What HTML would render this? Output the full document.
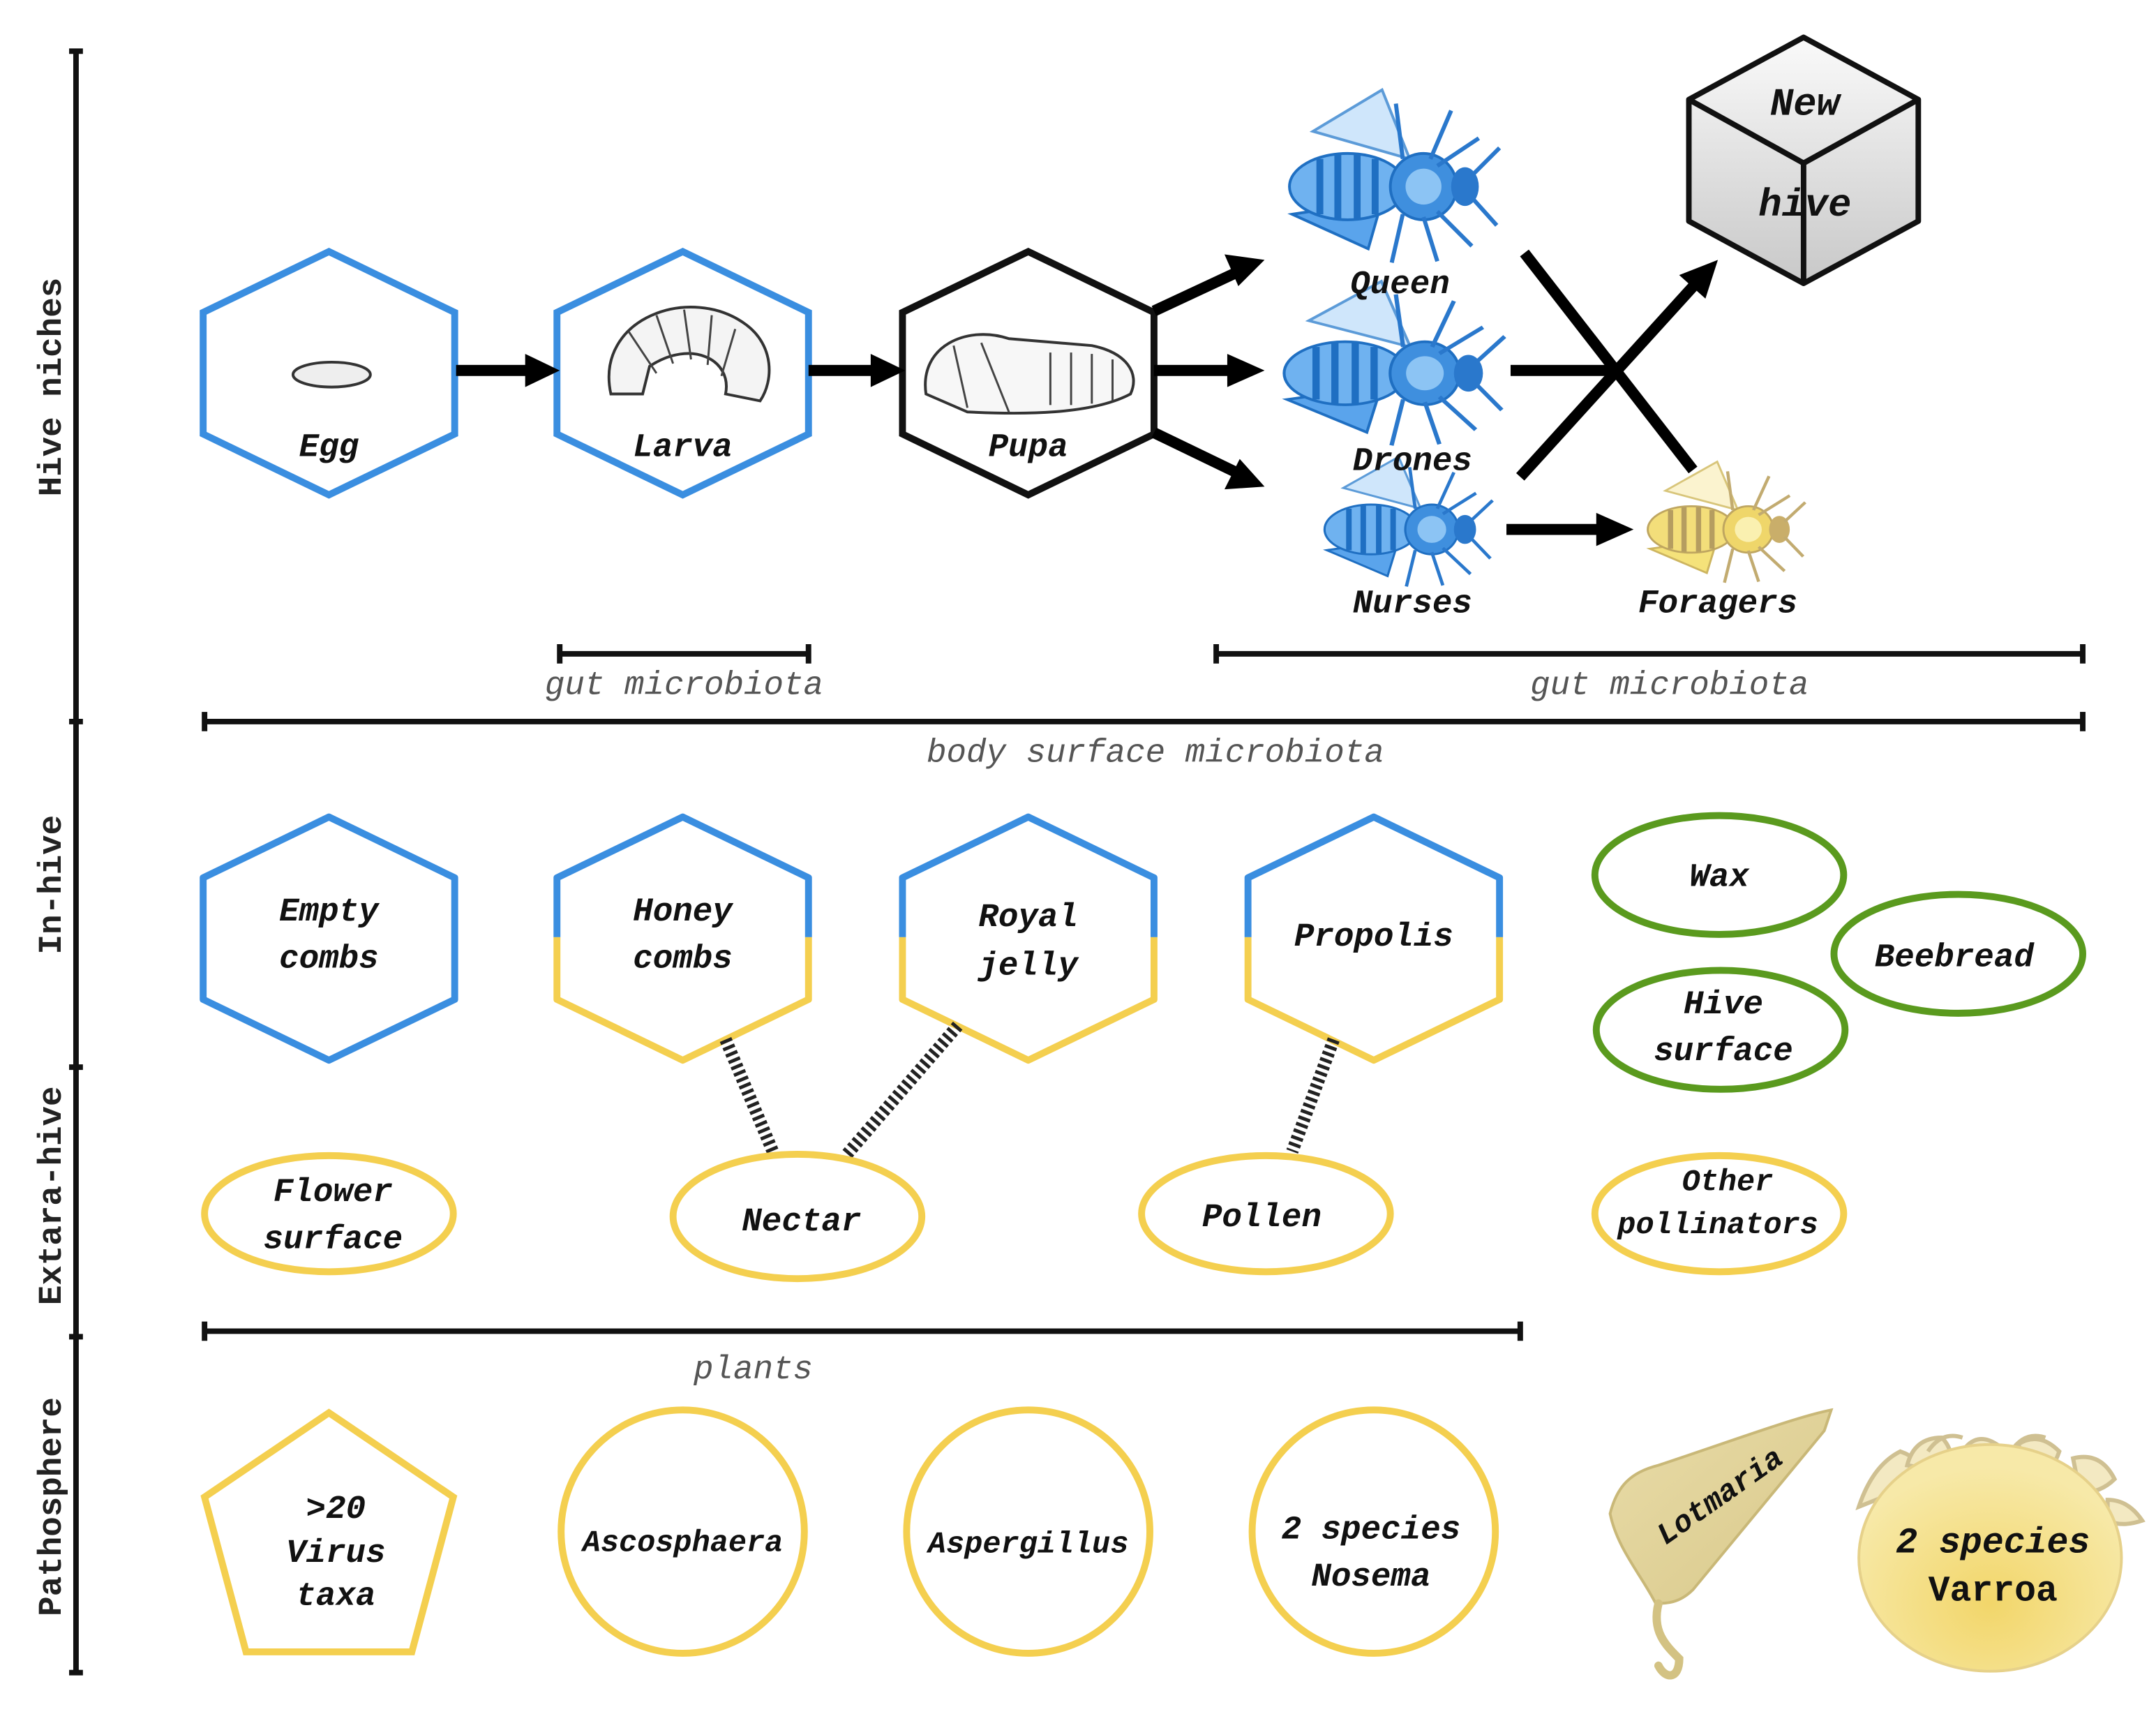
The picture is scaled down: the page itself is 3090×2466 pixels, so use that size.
<!DOCTYPE html>
<html><head><meta charset="utf-8"><style>
html,body{margin:0;padding:0;background:#fff;}
svg{display:block;}
text{font-family:"Liberation Mono","DejaVu Sans Mono",monospace;font-weight:bold;font-style:italic;fill:#111;}
.ax{font-style:normal;font-size:24px;fill:#222;}
.lbl{font-size:24px;text-anchor:middle;}
.rng{font-weight:normal;font-size:24px;fill:#555;text-anchor:middle;}
</style></head><body>
<svg width="3090" height="2466" viewBox="0 0 1560 1245" preserveAspectRatio="none" xmlns="http://www.w3.org/2000/svg">
<defs>
<linearGradient id="cube" x1="0" y1="0" x2="0" y2="1"><stop offset="0" stop-color="#fafafa"/><stop offset="1" stop-color="#c8c8c8"/></linearGradient>
<radialGradient id="var" cx="0.5" cy="0.7" r="0.6"><stop offset="0" stop-color="#f2d66a"/><stop offset="1" stop-color="#f7e9a8"/></radialGradient>
<linearGradient id="lot" x1="0" y1="0" x2="1" y2="1"><stop offset="0" stop-color="#e9dca8"/><stop offset="1" stop-color="#d8c88a"/></linearGradient>
<g id="bee">
<path d="M-60,-40 L-10,-70 L10,-20 Z" fill="#cfe6fb" stroke="#5c9bd8" stroke-width="2"/>
<path d="M-75,20 L-10,10 L-20,45 Z" fill="#5aa4ec" stroke="#1f6fc2" stroke-width="2"/>
<ellipse cx="-35" cy="0" rx="42" ry="24" fill="#6fb2f0" stroke="#1f6fc2" stroke-width="2"/>
<path d="M-55,-20 v40 M-42,-23 v46 M-28,-23 v46 M-15,-20 v40" stroke="#1f6fc2" stroke-width="5"/>
<circle cx="20" cy="0" r="24" fill="#3f8fde" stroke="#1f6fc2" stroke-width="2"/>
<circle cx="20" cy="0" r="13" fill="#8cc4f4"/>
<ellipse cx="50" cy="0" rx="10" ry="14" fill="#2a78cc"/>
<path d="M5,20 l-8,35 M20,22 l10,32 M30,18 l25,25 M5,-20 l-5,-40 M25,-20 l15,-35 M30,-15 l30,-20 M55,-8 l20,-20 M55,8 l18,20" stroke="#2a78cc" stroke-width="3" fill="none"/>
</g>
<g id="ybee">
<path d="M-60,-40 L-10,-70 L10,-20 Z" fill="#fbf3cf" stroke="#d8c57a" stroke-width="2"/>
<path d="M-75,20 L-10,10 L-20,45 Z" fill="#f5e27a" stroke="#cdb560" stroke-width="2"/>
<ellipse cx="-35" cy="0" rx="42" ry="24" fill="#f3de7a" stroke="#bfa660" stroke-width="2"/>
<path d="M-55,-20 v40 M-42,-23 v46 M-28,-23 v46 M-15,-20 v40" stroke="#b59d60" stroke-width="5"/>
<circle cx="20" cy="0" r="24" fill="#efd66a" stroke="#bfa660" stroke-width="2"/>
<circle cx="20" cy="0" r="13" fill="#faf0b0"/>
<ellipse cx="50" cy="0" rx="10" ry="14" fill="#c9ae6a"/>
<path d="M5,20 l-8,35 M20,22 l10,32 M30,18 l25,25 M5,-20 l-5,-40 M25,-20 l15,-35 M30,-15 l30,-20 M55,-8 l20,-20 M55,8 l18,20" stroke="#c2ab70" stroke-width="3" fill="none"/>
</g>
</defs>

<g stroke="#111" stroke-width="4">
<line x1="55" y1="37" x2="55" y2="1210"/>
<line x1="50" y1="37" x2="60" y2="37"/><line x1="50" y1="522" x2="60" y2="522"/><line x1="50" y1="772" x2="60" y2="772"/><line x1="50" y1="967" x2="60" y2="967"/><line x1="50" y1="1210" x2="60" y2="1210"/>
</g>
<text class="ax" transform="translate(44,280) rotate(-90)" text-anchor="middle">Hive niches</text>
<text class="ax" transform="translate(44,640) rotate(-90)" text-anchor="middle">In-hive</text>
<text class="ax" transform="translate(44,865) rotate(-90)" text-anchor="middle">Extara-hive</text>
<text class="ax" transform="translate(44,1090) rotate(-90)" text-anchor="middle">Pathosphere</text>

<g fill="#fff" stroke-width="5">
<polygon points="238,182 329,226 329,314 238,358 147,314 147,226" stroke="#3a8ee0"/>
<polygon points="494,182 585,226 585,314 494,358 403,314 403,226" stroke="#3a8ee0"/>
<polygon points="744,182 835,226 835,314 744,358 653,314 653,226" stroke="#111"/>
</g>
<ellipse cx="240" cy="271" rx="28" ry="9" fill="#eee" stroke="#333" stroke-width="2"/>
<path d="M442,285 C430,230 500,205 540,235 C560,250 560,275 550,290 L525,285 C530,260 500,245 470,265 L465,285 Z" fill="#f4f4f4" stroke="#333" stroke-width="2"/>
<g stroke="#444" stroke-width="1.5" fill="none"><path d="M455,240 l20,30 M475,228 l12,35 M495,224 l5,36 M515,228 l-3,36 M532,238 l-10,34"/></g>
<path d="M670,285 C665,250 700,235 730,245 L790,250 C815,255 825,270 818,285 C790,300 740,300 700,298 Z" fill="#f7f7f7" stroke="#333" stroke-width="2"/>
<g stroke="#444" stroke-width="1.5" fill="none"><path d="M760,255 v38 M775,255 v38 M790,256 v36 M805,260 v30 M690,250 l10,45 M710,248 l20,50"/></g>
<text class="lbl" x="238" y="330">Egg</text>
<text class="lbl" x="494" y="330">Larva</text>
<text class="lbl" x="744" y="330">Pupa</text>

<g stroke="#000" stroke-width="8" fill="none">
<line x1="330" y1="268" x2="385" y2="268"/>
<line x1="585" y1="268" x2="635" y2="268"/>
<line x1="835" y1="225" x2="895" y2="197"/>
<line x1="835" y1="268" x2="893" y2="268"/>
<line x1="835" y1="313" x2="895" y2="342"/>
<line x1="1093" y1="268" x2="1170" y2="268"/>
<line x1="1103" y1="183" x2="1225" y2="340"/>
<line x1="1100" y1="345" x2="1228" y2="204"/>
<line x1="1090" y1="383" x2="1158" y2="383"/>
</g>
<g fill="#000">
<polygon points="405,268 380,256 380,280"/>
<polygon points="655,268 630,256 630,280"/>
<polygon points="915,188 886,184 896,207"/>
<polygon points="915,268 888,256 888,280"/>
<polygon points="915,352 897,332 886,354"/>
<polygon points="1243,188 1215,199 1234,216"/>
<polygon points="1182,383 1155,371 1155,395"/>
</g>

<use href="#bee" transform="translate(1010,135)"/>
<use href="#bee" transform="translate(1010,270) scale(1.05,0.95)"/>
<use href="#bee" transform="translate(1020,383) scale(0.8,0.75)"/>
<use href="#ybee" transform="translate(1250,383) scale(0.75,0.7)"/>
<text class="lbl" x="1013" y="212">Queen</text>
<text class="lbl" x="1022" y="340">Drones</text>
<text class="lbl" x="1022" y="443">Nurses</text>
<text class="lbl" x="1243" y="443">Foragers</text>

<g stroke="#111" stroke-width="4" stroke-linejoin="round">
<polygon points="1305,27 1388,72 1388,160 1305,205 1222,160 1222,72" fill="url(#cube)"/>
<polyline points="1222,72 1305,118 1388,72" fill="none"/>
<line x1="1305" y1="118" x2="1305" y2="205"/>
</g>
<text class="lbl" x="1306" y="83" style="font-size:28px">New</text>
<text class="lbl" x="1306" y="156" style="font-size:28px">hive</text>

<g stroke="#111" stroke-width="4">
<line x1="405" y1="473" x2="585" y2="473"/><line x1="405" y1="466" x2="405" y2="480"/><line x1="585" y1="466" x2="585" y2="480"/>
<line x1="880" y1="473" x2="1507" y2="473"/><line x1="880" y1="466" x2="880" y2="480"/><line x1="1507" y1="466" x2="1507" y2="480"/>
<line x1="148" y1="522" x2="1507" y2="522"/><line x1="148" y1="515" x2="148" y2="529"/><line x1="1507" y1="515" x2="1507" y2="529"/>
<line x1="148" y1="963" x2="1100" y2="963"/><line x1="148" y1="956" x2="148" y2="970"/><line x1="1100" y1="956" x2="1100" y2="970"/>
</g>
<text class="rng" x="495" y="502">gut microbiota</text>
<text class="rng" x="1208" y="502">gut microbiota</text>
<text class="rng" x="836" y="551">body surface microbiota</text>
<text class="rng" x="545" y="997">plants</text>

<g fill="#fff" stroke-width="5" stroke-linejoin="round">
<polygon points="238,591 329,635 329,723 238,767 147,723 147,635" stroke="#3a8ee0"/>
<polyline points="403,678 403,635 494,591 585,635 585,678" stroke="#3a8ee0" fill="none"/>
<polyline points="403,678 403,723 494,767 585,723 585,678" stroke="#f4cf4f" fill="none"/>
<polyline points="653,678 653,635 744,591 835,635 835,678" stroke="#3a8ee0" fill="none"/>
<polyline points="653,678 653,723 744,767 835,723 835,678" stroke="#f4cf4f" fill="none"/>
<polyline points="903,678 903,635 994,591 1085,635 1085,678" stroke="#3a8ee0" fill="none"/>
<polyline points="903,678 903,723 994,767 1085,723 1085,678" stroke="#f4cf4f" fill="none"/>
</g>
<text class="lbl" x="238" y="666">Empty</text><text class="lbl" x="238" y="700">combs</text>
<text class="lbl" x="494" y="666">Honey</text><text class="lbl" x="494" y="700">combs</text>
<text class="lbl" x="744" y="670">Royal</text><text class="lbl" x="744" y="705">jelly</text>
<text class="lbl" x="994" y="684">Propolis</text>

<g fill="#fff" stroke="#5a9a1e" stroke-width="5">
<ellipse cx="1244" cy="633" rx="90" ry="43"/>
<ellipse cx="1245" cy="745" rx="90" ry="43"/>
<ellipse cx="1417" cy="690" rx="90" ry="43"/>
</g>
<text class="lbl" x="1244" y="641">Wax</text>
<text class="lbl" x="1247" y="733">Hive</text><text class="lbl" x="1247" y="767">surface</text>
<text class="lbl" x="1414" y="699">Beebread</text>

<g stroke="#222" stroke-width="9" stroke-dasharray="2.5,2.5" fill="none">
<line x1="525" y1="752" x2="560" y2="835"/>
<line x1="693" y1="742" x2="612" y2="836"/>
<line x1="965" y1="752" x2="935" y2="833"/>
</g>

<g fill="#fff" stroke="#f4cf4f" stroke-width="5">
<ellipse cx="238" cy="878" rx="90" ry="42"/>
<ellipse cx="577" cy="880" rx="90" ry="45"/>
<ellipse cx="916" cy="878" rx="90" ry="42"/>
<ellipse cx="1244" cy="878" rx="90" ry="42"/>
</g>
<text class="lbl" x="241" y="869">Flower</text><text class="lbl" x="241" y="903">surface</text>
<text class="lbl" x="580" y="890">Nectar</text>
<text class="lbl" x="913" y="887">Pollen</text>
<text class="lbl" x="1250" y="861" style="font-size:22px">Other</text><text class="lbl" x="1243" y="892" style="font-size:22px">pollinators</text>

<g fill="#fff" stroke="#f4cf4f" stroke-width="5">
<polygon points="238,1022 328,1083 298,1195 178,1195 148,1083"/>
<circle cx="494" cy="1108" r="88"/>
<circle cx="744" cy="1108" r="88"/>
<circle cx="994" cy="1108" r="88"/>
</g>
<text class="lbl" x="243" y="1098">&gt;20</text><text class="lbl" x="243" y="1130">Virus</text><text class="lbl" x="243" y="1161">taxa</text>
<text class="lbl" x="494" y="1122" style="font-size:22px">Ascosphaera</text>
<text class="lbl" x="744" y="1123" style="font-size:22px">Aspergillus</text>
<text class="lbl" x="992" y="1113">2 species</text><text class="lbl" x="992" y="1147">Nosema</text>

<path d="M1325,1020 L1320,1035 L1225,1150 C1215,1160 1205,1160 1198,1160 C1188,1140 1170,1120 1165,1095 C1170,1075 1180,1065 1200,1060 C1260,1040 1300,1025 1325,1020 Z" fill="url(#lot)" stroke="#c9b878" stroke-width="2"/>
<path d="M1200,1160 C1195,1180 1205,1190 1215,1200 C1215,1215 1205,1215 1200,1205" fill="none" stroke="#d3c283" stroke-width="6" stroke-linecap="round"/>
<text transform="translate(1205,1118) rotate(-35)" style="font-size:22px">Lotmaria</text>

<g stroke="#cfc092" stroke-width="3" fill="#f3e9c2">
<path d="M1345,1090 q10,-30 30,-40 q15,5 20,20 z"/><path d="M1380,1060 q5,-20 25,-20 q10,10 5,25 z"/>
<path d="M1420,1050 q10,-15 25,-5 q0,15 -10,20 z"/><path d="M1460,1045 q15,-10 30,5 q-5,15 -15,18 z"/>
<path d="M1500,1055 q20,-5 30,15 q-10,10 -25,10 z"/><path d="M1525,1085 q15,0 25,15 q-15,5 -25,0 z"/>
<path d="M1395,1050 q10,-15 25,-10 M1455,1050 q10,-15 25,-10" fill="none"/>
</g>
<ellipse cx="1440" cy="1127" rx="95" ry="82" fill="url(#var)" stroke="#e6d18a" stroke-width="2"/>
<text class="lbl" x="1442" y="1123" style="font-size:26px">2 species</text>
<text class="lbl" x="1442" y="1158" style="font-size:26px;font-style:normal">Varroa</text>
</svg>
</body></html>
